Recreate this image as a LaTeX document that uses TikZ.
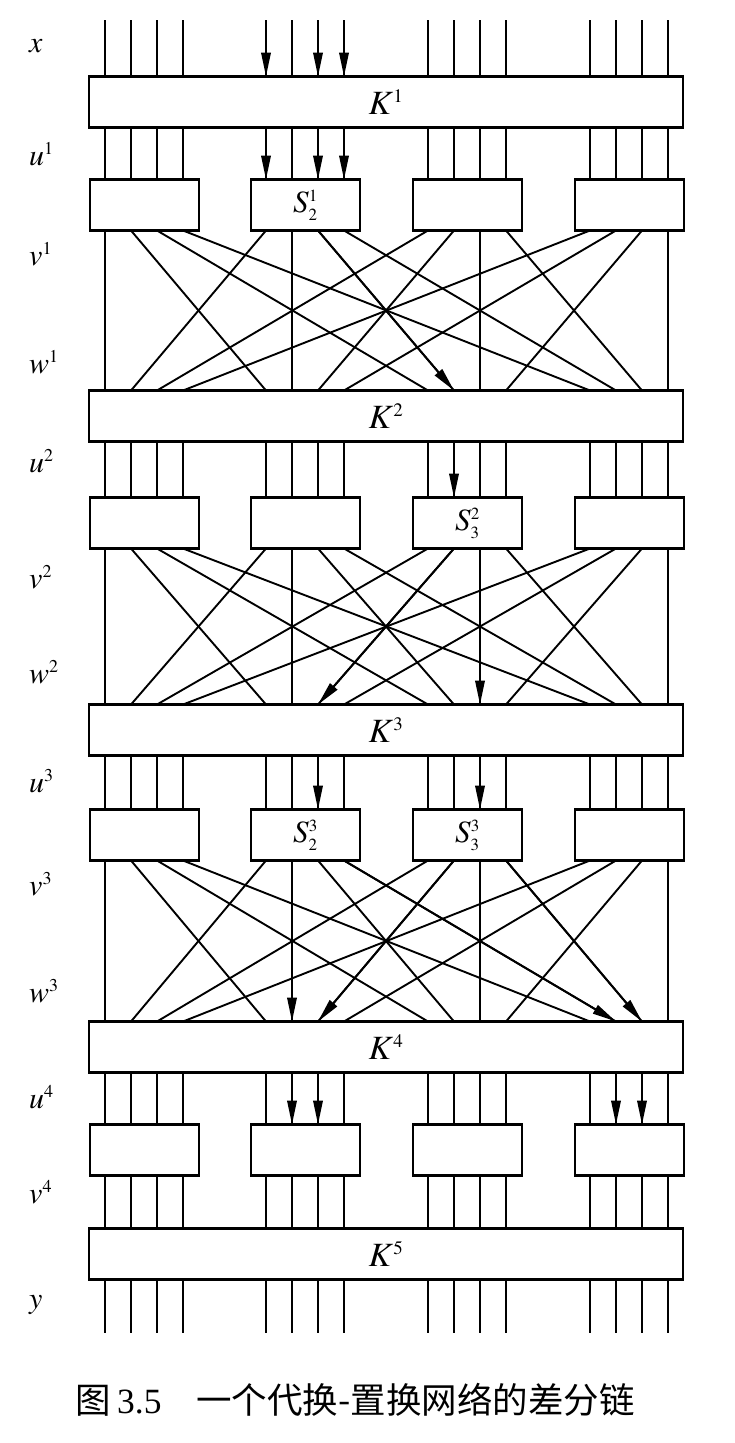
\documentclass[tikz,border=0pt]{standalone}
\usepackage{mathptmx}
\usepackage[no-math]{fontspec}
\setmainfont{Liberation Serif}
\newfontfamily\cjk{Noto Sans CJK SC}
\DeclareMathSizes{34}{34}{19}{14}
\DeclareMathSizes{31}{31}{17}{13}
\DeclareMathSizes{30}{30}{18}{14}
\usetikzlibrary{arrows.meta}
\begin{document}
\begin{tikzpicture}[x=1pt,y=-1pt,
  wire/.style={line width=1.9pt},
  arr/.style={line width=1.9pt,-{Triangle[length=24pt,width=9.5pt]}},
  kbox/.style={draw,line width=2.3pt,minimum width=594pt,minimum height=51pt,inner sep=0pt,outer sep=0pt,font=\fontsize{34}{36}\selectfont},
  sbox/.style={draw,line width=2.3pt,minimum width=109pt,minimum height=51pt,inner sep=0pt,outer sep=0pt,font=\fontsize{31}{33}\selectfont},
  lab/.style={anchor=base west,inner sep=0pt,font=\fontsize{30}{32}\selectfont},
  captext/.style={anchor=base west,inner sep=0pt,font=\fontsize{35.5}{37}\selectfont}]
\useasboundingbox (0,0) rectangle (734,1443);

% key-mixing boxes
\node[kbox] (K1) at (386,102)  {$K^{1}$};
\node[kbox] (K2) at (386,416)  {$K^{2}$};
\node[kbox] (K3) at (386,730)  {$K^{3}$};
\node[kbox] (K4) at (386,1047) {$K^{4}$};
\node[kbox] (K5) at (386,1254) {$K^{5}$};

% S-boxes
\node[sbox] (S11) at (144.5,205) {};
\node[sbox] (S12) at (305.5,205) {$S^{1}_{2}$};
\node[sbox] (S13) at (467.5,205) {};
\node[sbox] (S14) at (629.5,205) {};
\node[sbox] (S21) at (144.5,523) {};
\node[sbox] (S22) at (305.5,523) {};
\node[sbox] (S23) at (467.5,523) {$S^{2}_{3}$};
\node[sbox] (S24) at (629.5,523) {};
\node[sbox] (S31) at (144.5,835) {};
\node[sbox] (S32) at (305.5,835) {$S^{3}_{2}$};
\node[sbox] (S33) at (467.5,835) {$S^{3}_{3}$};
\node[sbox] (S34) at (629.5,835) {};
\node[sbox] (S41) at (144.5,1150) {};
\node[sbox] (S42) at (305.5,1150) {};
\node[sbox] (S43) at (467.5,1150) {};
\node[sbox] (S44) at (629.5,1150) {};

% straight wires
\foreach \g/\gx in {1/105,2/266,3/428,4/590} {
  \foreach \b in {0,...,3} {
    \pgfmathsetmacro\xx{\gx+26*\b}
    \coordinate (top\g\b) at (\xx,20);
    \coordinate (bot\g\b) at (\xx,1333);
    \draw[wire] (top\g\b) -- (top\g\b |- K1.north);
    \draw[wire] (top\g\b |- K1.south) -- (top\g\b |- S1\g.north);
    \draw[wire] (top\g\b |- K2.south) -- (top\g\b |- S2\g.north);
    \draw[wire] (top\g\b |- K3.south) -- (top\g\b |- S3\g.north);
    \draw[wire] (top\g\b |- K4.south) -- (top\g\b |- S4\g.north);
    \draw[wire] (top\g\b |- S4\g.south) -- (top\g\b |- K5.north);
    \draw[wire] (top\g\b |- K5.south) -- (bot\g\b);
  }
}

% permutation layers
\foreach \r/\n in {1/2,2/3,3/4} {
  \foreach \j in {1,...,4} {
    \foreach \k in {1,...,4} {
      \pgfmathtruncatemacro\kb{\k-1}
      \pgfmathtruncatemacro\jb{\j-1}
      \draw[wire] (top\j\kb |- S\r\j.south) -- (top\k\jb |- K\n.north);
    }
  }
}

% differential trail (arrows)
\draw[arr] (top20) -- (top20 |- K1.north);
\draw[arr] (top22) -- (top22 |- K1.north);
\draw[arr] (top23) -- (top23 |- K1.north);
\draw[arr] (top20 |- K1.south) -- (top20 |- S12.north);
\draw[arr] (top22 |- K1.south) -- (top22 |- S12.north);
\draw[arr] (top23 |- K1.south) -- (top23 |- S12.north);
\draw[arr] (top22 |- S12.south) -- (top31 |- K2.north);
\draw[arr] (top31 |- K2.south) -- (top31 |- S23.north);
\draw[arr] (top31 |- S23.south) -- (top22 |- K3.north);
\draw[arr] (top32 |- S23.south) -- (top32 |- K3.north);
\draw[arr] (top22 |- K3.south) -- (top22 |- S32.north);
\draw[arr] (top32 |- K3.south) -- (top32 |- S33.north);
\draw[arr] (top21 |- S32.south) -- (top21 |- K4.north);
\draw[arr] (top23 |- S32.south) -- (top41 |- K4.north);
\draw[arr] (top31 |- S33.south) -- (top22 |- K4.north);
\draw[arr] (top33 |- S33.south) -- (top42 |- K4.north);
\draw[arr] (top21 |- K4.south) -- (top21 |- S42.north);
\draw[arr] (top22 |- K4.south) -- (top22 |- S42.north);
\draw[arr] (top41 |- K4.south) -- (top41 |- S44.north);
\draw[arr] (top42 |- K4.south) -- (top42 |- S44.north);

% row labels
\node[lab] (lx)  at (29,52)   {$x$};
\node[lab] (lu1) at (29,165)  {$u^{1}$};
\node[lab] (lv1) at (29,265)  {$v^{1}$};
\node[lab] (lw1) at (29,373)  {$w^{1}$};
\node[lab] (lu2) at (29,472)  {$u^{2}$};
\node[lab] (lv2) at (29,588)  {$v^{2}$};
\node[lab] (lw2) at (29,683)  {$w^{2}$};
\node[lab] (lu3) at (29,792)  {$u^{3}$};
\node[lab] (lv3) at (29,895)  {$v^{3}$};
\node[lab] (lw3) at (29,1002) {$w^{3}$};
\node[lab] (lu4) at (29,1108) {$u^{4}$};
\node[lab] (lv4) at (29,1203) {$v^{4}$};
\node[lab] (ly)  at (29,1308) {$y$};

% caption
\node[captext] (c1) at (75,1413)  {\cjk 图};
\node[captext] (c2) at (117,1413) {3.5};
\node[captext] (c3) at (196,1413) {\cjk 一个代换-置换网络的差分链};
\end{tikzpicture}
\end{document}
